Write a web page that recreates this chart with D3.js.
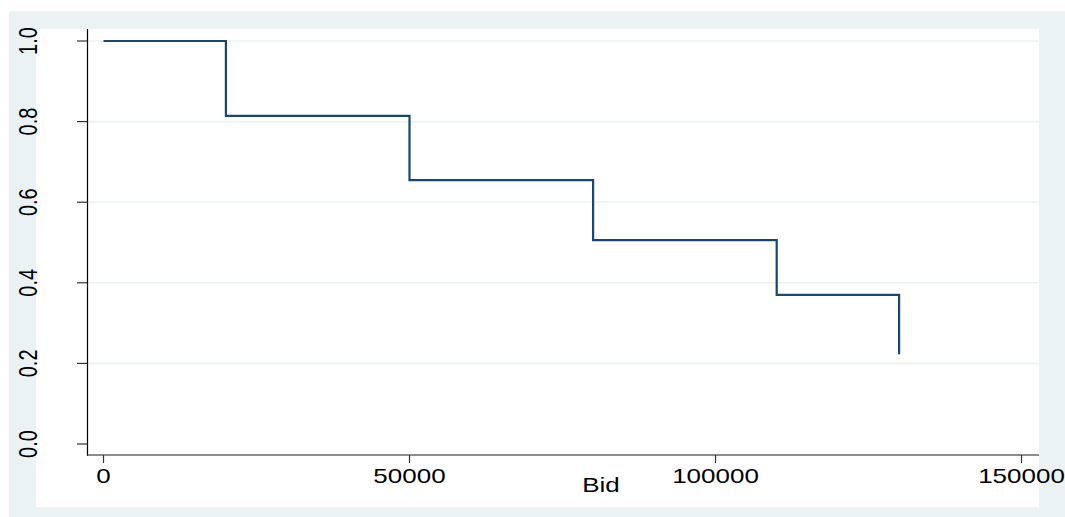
<!DOCTYPE html>
<html>
<head>
<meta charset="utf-8">
<script src="https://cdn.jsdelivr.net/npm/d3@7"></script>
<style>
  html, body { margin: 0; padding: 0; background: #ffffff; }
  svg { display: block; }
  text { font-family: "Liberation Sans", Arial, Helvetica, sans-serif; fill: #000; }
</style>
</head>
<body>
<svg id="chart" width="1065" height="517"></svg>
<script>
// Data (Kaplan-Meier style step function)
const bids = [0, 20000, 50000, 80000, 110000, 130000];
const survival = [1.0, 0.814, 0.655, 0.506, 0.370, 0.223];
const xTicks = [0, 50000, 100000, 150000];
const xTickLabels = ["0", "50000", "100000", "150000"];
const yTicks = [0.0, 0.2, 0.4, 0.6, 0.8, 1.0];
const yTickLabels = ["0.0", "0.2", "0.4", "0.6", "0.8", "1.0"];
const xTitle = "Bid";

const svg = d3.select("#chart");
const W = 1065, H = 517;
const stretch = 1.3; // horizontal text stretch seen in the reference

// Outer graph region and inner region
svg.append("rect").attr("x", 9).attr("y", 11).attr("width", W - 9).attr("height", H - 11).attr("fill", "#eaf2f3");
svg.append("rect").attr("x", 36).attr("y", 29).attr("width", 1039 - 36).attr("height", 507 - 29).attr("fill", "#ffffff");

const plotLeft = 87.5, plotRight = 1039, axisY = 455;
const x = d3.scaleLinear().domain([0, 150000]).range([103.5, 1021.5]);
const y = d3.scaleLinear().domain([0, 1]).range([444, 41]);

// Gridlines
svg.append("g").selectAll("line")
  .data(yTicks.filter(d => d > 0))
  .join("line")
  .attr("x1", plotLeft).attr("x2", plotRight)
  .attr("y1", d => y(d)).attr("y2", d => y(d))
  .attr("stroke", "#eaf2f3").attr("stroke-width", 1.6);

// Y axis
const yAxis = svg.append("g");
yAxis.append("line").attr("x1", plotLeft).attr("x2", plotLeft).attr("y1", 29).attr("y2", axisY + 1)
  .attr("stroke", "#000").attr("stroke-width", 1.2);
yAxis.selectAll("line.tick").data(yTicks).join("line").attr("class", "tick")
  .attr("x1", 77).attr("x2", plotLeft).attr("y1", d => y(d)).attr("y2", d => y(d))
  .attr("stroke", "#333").attr("stroke-width", 1.2);
yAxis.selectAll("text").data(yTicks).join("text")
  .attr("transform", d => `translate(37,${y(d)}) scale(${stretch},1) rotate(-90)`)
  .attr("text-anchor", "middle")
  .attr("font-size", 20)
  .text((d, i) => yTickLabels[i]);

// X axis
const xAxis = svg.append("g");
xAxis.append("line").attr("x1", plotLeft).attr("x2", plotRight).attr("y1", axisY).attr("y2", axisY)
  .attr("stroke", "#666").attr("stroke-width", 1.5);
xAxis.selectAll("line.tick").data(xTicks).join("line").attr("class", "tick")
  .attr("x1", d => x(d)).attr("x2", d => x(d)).attr("y1", axisY).attr("y2", 463)
  .attr("stroke", "#333").attr("stroke-width", 1.2);
xAxis.selectAll("text").data(xTicks).join("text")
  .attr("transform", d => `translate(${x(d)},483) scale(${stretch},1)`)
  .attr("text-anchor", "middle")
  .attr("font-size", 20)
  .text((d, i) => xTickLabels[i]);

svg.append("text")
  .attr("transform", `translate(601,492) scale(${stretch},1)`)
  .attr("text-anchor", "middle")
  .attr("font-size", 20)
  .text(xTitle);

// Step line
const pts = bids.map((b, i) => [b, survival[i]]);
const line = d3.line().x(d => x(d[0])).y(d => y(d[1])).curve(d3.curveStepAfter);
svg.append("path").datum(pts)
  .attr("d", line)
  .attr("fill", "none")
  .attr("stroke", "#1a476f")
  .attr("stroke-width", 2.2);
</script>
</body>
</html>
